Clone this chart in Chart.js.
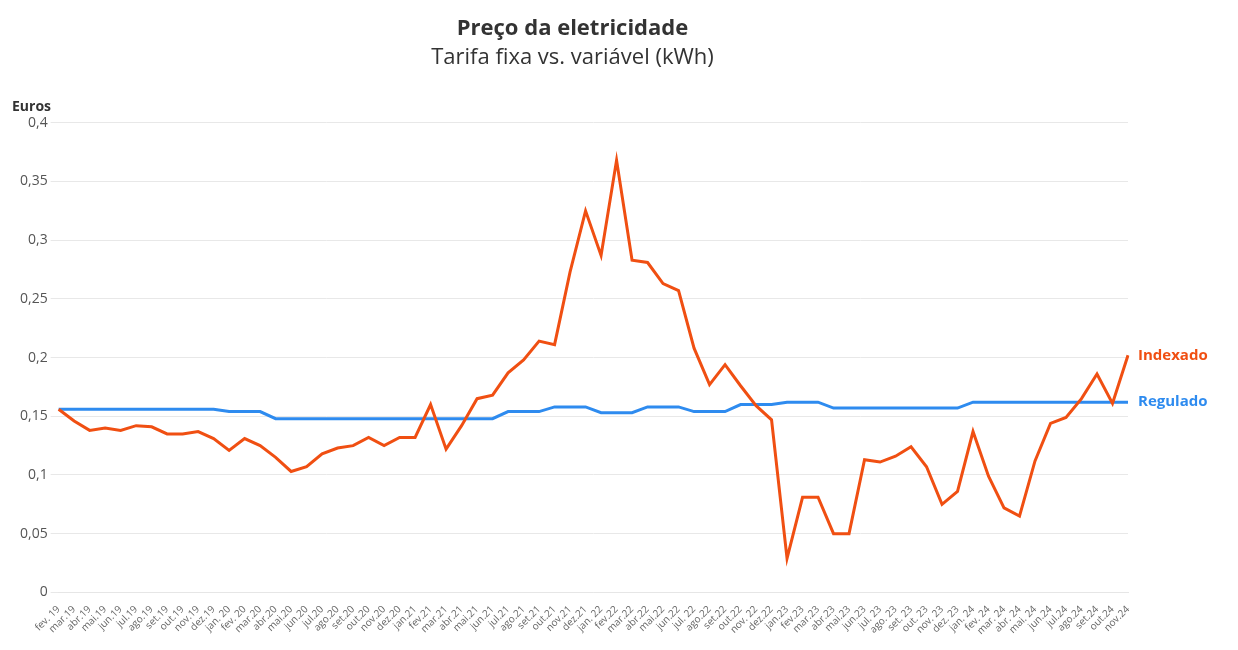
<!DOCTYPE html>
<html><head><meta charset="utf-8">
<script src="https://cdn.jsdelivr.net/npm/chart.js@4"></script>
<style>html,body{margin:0;padding:0;background:#fff}#w{width:1238px;height:650px;position:relative}</style>
</head><body><div id="w"><canvas id="c"></canvas></div>
<script>
const labels = ["fev. 19","mar.19","abr.19","mai.19","jun.19","jul.19","ago.19","set.19","out.19","nov.19","dez.19",
"jan. 20","fev. 20","mar.20","abr.20","mai.20","jun.20","jul.20","ago.20","set.20","out.20","nov.20","dez.20",
"jan.21","fev.21","mar.21","abr.21","mai.21","jun.21","jul.21","ago.21","set.21","out.21","nov.21","dez.21",
"jan. 22","fev.22","mar.22","abr.22","mai.22","jun.22","jul. 22","ago.22","set.22","out.22","nov. 22","dez.22",
"jan.23","fev.23","mar.23","abr.23","mai.23","jun.23","jul. 23","ago. 23","set. 23","out. 23","nov. 23","dez. 23",
"jan. 24","fev. 24","mar. 24","abr. 24","mai. 24","jun.24","jul.24","ago.24","set.24","out.24","nov.24"];
const indexado = [.156,.146,.138,.140,.138,.142,.141,.135,.135,.137,.131,
.121,.131,.125,.115,.103,.107,.118,.123,.125,.132,.125,.132,
.132,.160,.122,.142,.165,.168,.187,.198,.214,.211,.273,.325,
.287,.368,.283,.281,.263,.257,.208,.177,.194,.176,.159,.147,
.029,.081,.081,.050,.050,.113,.111,.116,.124,.107,.075,.086,
.137,.099,.072,.065,.112,.144,.149,.165,.186,.161,.202];
const regulado = [.156,.156,.156,.156,.156,.156,.156,.156,.156,.156,.156,
.154,.154,.154,.148,.148,.148,.148,.148,.148,.148,.148,.148,
.148,.148,.148,.148,.148,.148,.154,.154,.154,.158,.158,.158,
.153,.153,.153,.158,.158,.158,.154,.154,.154,.160,.160,.160,
.162,.162,.162,.157,.157,.157,.157,.157,.157,.157,.157,.157,
.162,.162,.162,.162,.162,.162,.162,.162,.162,.162,.162];
const F = "'Open Sans', 'Noto Sans', sans-serif";
const endLabels = {id:'endLabels', afterDatasetsDraw(ch){
  const ctx=ch.ctx; ctx.save();
  ch.data.datasets.forEach((ds,i)=>{
    const m=ch.getDatasetMeta(i); const p=m.data[m.data.length-1];
    ctx.font="bold 15px "+F; ctx.fillStyle=ds.borderColor; ctx.textBaseline='middle';
    ctx.fillText(ds.label,p.x+10,p.y);
  });
  ctx.font="bold 14px "+F; ctx.fillStyle='#333'; ctx.textBaseline='alphabetic';
  ctx.fillText('Euros',12,111);
  ctx.restore();
}};
new Chart(document.getElementById('c'),{type:'line',
data:{labels,datasets:[
 {label:'Indexado',data:indexado,borderColor:'#F04F12',borderWidth:3,pointRadius:0,tension:0},
 {label:'Regulado',data:regulado,borderColor:'#2E8BEF',borderWidth:3,pointRadius:0,tension:0}]},
options:{responsive:true,maintainAspectRatio:false,animation:false,
 layout:{padding:{top:16,right:110,left:17,bottom:10}},
 plugins:{legend:{display:false},tooltip:{enabled:false},
  title:{display:true,text:'Preço da eletricidade',font:{family:F,size:22,weight:'bold'},color:'#333',padding:{top:0,bottom:2}},
  subtitle:{display:true,text:'Tarifa fixa vs. variável (kWh)',font:{family:F,size:22},color:'#333',padding:{bottom:52}}},
 scales:{
  x:{grid:{display:false},border:{color:'#e6e6e6'},ticks:{autoSkip:false,maxRotation:45,minRotation:45,color:'#666',font:{family:F,size:10}}},
  y:{min:0,max:0.4,grid:{color:'#e8e8e8'},border:{display:false},
     ticks:{stepSize:0.05,color:'#555',font:{family:F,size:14},callback:v=>String(Math.round(v*100)/100).replace('.',',')}}
 }},
plugins:[endLabels]});
</script></body></html>
